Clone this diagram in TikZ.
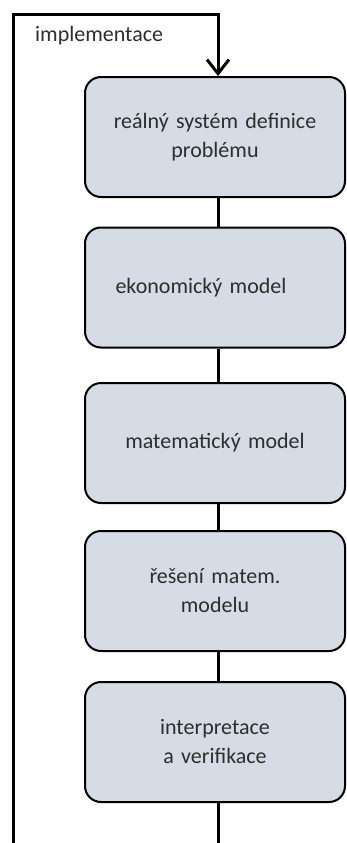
\documentclass[tikz,border=0pt]{standalone}
\usepackage{fontspec}
\setmainfont{Carlito}
\usetikzlibrary{arrows.meta}
\definecolor{boxfill}{RGB}{214,220,229}
\definecolor{txt}{RGB}{45,45,45}
\tikzset{
  stepbox/.style={draw=black, line width=2pt, fill=boxfill, rounded corners=16pt,
    minimum width=260pt, minimum height=120pt, text width=240pt, align=center,
    font=\fontsize{22}{29}\selectfont, text=txt, inner sep=0pt},
  conn/.style={draw=black, line width=3pt},
  lbl/.style={font=\fontsize{22}{29}\selectfont, text=txt, inner sep=0pt}
}
\begin{document}
\begin{tikzpicture}[x=1pt,y=-1pt]
\useasboundingbox (0,0) rectangle (346,843);
\node[stepbox] (b1) at (215,137) {reálný systém definice\\problému};
\node[stepbox] (b2) at (215,287.5) {\hspace*{-28pt}ekonomický model};
\node[stepbox] (b3) at (215,443) {matematický model};
\node[stepbox] (b4) at (215,591) {řešení matem.\\modelu};
\node[stepbox] (b5) at (215,742) {interpretace\\a verifikace};
\coordinate (bot) at (218,843);
\coordinate (left) at (13,843);
\coordinate (tl) at (13,15);
\coordinate (tr) at (218,15);
\draw[conn] (b1.south -| tr) -- (b2.north -| tr);
\draw[conn] (b2.south -| tr) -- (b3.north -| tr);
\draw[conn] (b3.south -| tr) -- (b4.north -| tr);
\draw[conn] (b4.south -| tr) -- (b5.north -| tr);
\draw[conn] (b5.south -| tr) -- (bot);
\draw[conn, -{Straight Barb[length=14pt,width=22pt]}] (left) -- (tl) -- (tr) -- (b1.north -| tr);
\node[lbl, anchor=west] (impl) at (35,36) {implementace};
\end{tikzpicture}
\end{document}
